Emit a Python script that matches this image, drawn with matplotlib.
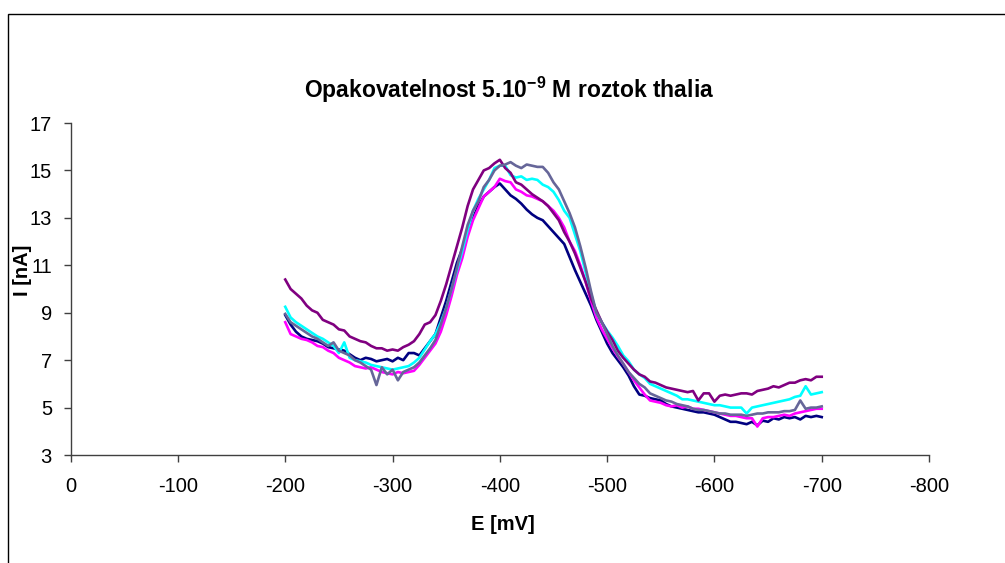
import matplotlib
matplotlib.use('Agg')
import matplotlib.pyplot as plt
import numpy as np
from matplotlib.patches import Rectangle

plt.rcParams['font.family'] = ['Liberation Sans', 'DejaVu Sans']
plt.rcParams['axes.unicode_minus'] = False
plt.rcParams['mathtext.fontset'] = 'custom'
plt.rcParams['mathtext.rm'] = 'Liberation Sans:bold'
plt.rcParams['mathtext.bf'] = 'Liberation Sans:bold'

# potential axis in mV, 5 mV step from -200 to -700
E = np.arange(-200, -701, -5)

navy = [8.9, 8.5, 8.2, 8.0, 7.9, 7.85, 7.8, 7.7, 7.55, 7.5,
        7.45, 7.4, 7.25, 7.1, 7.0, 7.1, 7.05, 6.95, 7.0, 7.05,
        6.95, 7.1, 7.0, 7.3, 7.3, 7.2, 7.5, 7.8, 8.1, 8.8,
        9.5, 10.3, 11.1, 11.7, 12.4, 13.0, 13.5, 13.9, 14.1, 14.3,
        14.45, 14.2, 13.95, 13.8, 13.6, 13.35, 13.15, 13.0, 12.9, 12.65,
        12.4, 12.15, 11.9, 11.35, 10.8, 10.3, 9.8, 9.3, 8.7, 8.2,
        7.7, 7.3, 7.0, 6.7, 6.35, 5.9, 5.55, 5.5, 5.4, 5.35,
        5.3, 5.15, 5.05, 5.0, 4.95, 4.9, 4.85, 4.8, 4.8, 4.75,
        4.7, 4.6, 4.5, 4.4, 4.4, 4.35, 4.3, 4.4, 4.25, 4.45,
        4.4, 4.55, 4.5, 4.6, 4.55, 4.6, 4.5, 4.65, 4.6, 4.65,
        4.6]

magenta = [8.6, 8.1, 8.0, 7.9, 7.85, 7.75, 7.6, 7.55, 7.4, 7.3,
           7.1, 7.0, 6.9, 6.75, 6.7, 6.65, 6.7, 6.6, 6.5, 6.45,
           6.4, 6.5, 6.45, 6.5, 6.55, 6.8, 7.1, 7.4, 7.7, 8.2,
           8.9, 9.7, 10.6, 11.3, 12.2, 12.9, 13.4, 13.9, 14.1, 14.3,
           14.65, 14.55, 14.5, 14.2, 14.1, 13.95, 13.9, 13.8, 13.7, 13.5,
           13.3, 13.0, 12.6, 12.0, 11.6, 11.0, 10.3, 9.5, 8.8, 8.3,
           7.9, 7.5, 7.15, 6.85, 6.5, 6.15, 5.85, 5.55, 5.3, 5.25,
           5.2, 5.1, 5.05, 5.1, 5.0, 5.05, 4.95, 4.95, 4.9, 4.85,
           4.8, 4.75, 4.7, 4.65, 4.65, 4.6, 4.55, 4.55, 4.2, 4.55,
           4.6, 4.6, 4.65, 4.7, 4.65, 4.75, 4.8, 4.85, 4.9, 4.95,
           4.95]

cyan = [9.25, 8.8, 8.6, 8.45, 8.3, 8.15, 8.0, 7.9, 7.75, 7.6,
        7.3, 7.75, 7.1, 7.0, 6.95, 6.9, 6.8, 6.75, 6.7, 6.65,
        6.6, 6.65, 6.7, 6.75, 6.9, 7.1, 7.45, 7.8, 8.1, 8.6,
        9.2, 10.0, 10.8, 11.6, 12.5, 13.3, 13.8, 14.2, 14.6, 15.1,
        15.2, 15.2, 14.8, 14.7, 14.75, 14.6, 14.65, 14.6, 14.4, 14.3,
        14.1, 13.75, 13.3, 13.0, 12.3, 11.6, 10.7, 9.8, 9.0, 8.6,
        8.25, 7.95, 7.6, 7.2, 6.95, 6.6, 6.4, 6.25, 6.0, 5.9,
        5.8, 5.7, 5.6, 5.5, 5.35, 5.35, 5.3, 5.25, 5.2, 5.15,
        5.1, 5.1, 5.05, 5.0, 5.0, 5.0, 4.75, 5.0, 5.05, 5.1,
        5.15, 5.2, 5.25, 5.3, 5.35, 5.45, 5.5, 5.9, 5.55, 5.6,
        5.65]

purple = [10.4, 10.0, 9.8, 9.6, 9.3, 9.1, 9.0, 8.7, 8.6, 8.5,
          8.3, 8.25, 8.0, 7.9, 7.8, 7.75, 7.6, 7.5, 7.5, 7.4,
          7.45, 7.4, 7.55, 7.65, 7.8, 8.1, 8.5, 8.6, 8.9, 9.5,
          10.2, 11.0, 11.8, 12.6, 13.5, 14.2, 14.6, 15.0, 15.1, 15.3,
          15.45, 15.1, 14.9, 14.5, 14.4, 14.2, 14.0, 13.85, 13.7, 13.5,
          13.2, 12.9, 12.4, 12.0, 11.5, 10.9, 10.3, 9.6, 9.1, 8.6,
          8.2, 7.85, 7.4, 7.1, 6.85, 6.6, 6.4, 6.3, 6.1, 6.05,
          5.95, 5.85, 5.8, 5.75, 5.7, 5.65, 5.7, 5.3, 5.6, 5.6,
          5.25, 5.5, 5.55, 5.5, 5.55, 5.6, 5.6, 5.55, 5.7, 5.75,
          5.8, 5.9, 5.85, 5.95, 6.05, 6.05, 6.15, 6.2, 6.15, 6.3,
          6.3]

grey = [8.95, 8.6, 8.45, 8.3, 8.15, 8.0, 7.9, 7.75, 7.6, 7.75,
        7.4, 7.3, 7.2, 7.0, 6.9, 6.75, 6.6, 5.95, 6.7, 6.4,
        6.6, 6.15, 6.5, 6.6, 6.7, 6.9, 7.2, 7.5, 7.85, 8.5,
        9.2, 10.0, 10.9, 11.8, 12.7, 13.3, 13.7, 14.3, 14.6, 15.0,
        15.2, 15.25, 15.35, 15.2, 15.1, 15.25, 15.2, 15.15, 15.15, 14.9,
        14.5, 14.2, 13.7, 13.2, 12.6, 11.8, 10.9, 9.9, 9.0, 8.6,
        8.1, 7.6, 7.2, 6.85, 6.5, 6.25, 6.0, 5.85, 5.6, 5.5,
        5.4, 5.3, 5.25, 5.15, 5.1, 5.05, 4.95, 4.9, 4.9, 4.85,
        4.8, 4.75, 4.75, 4.7, 4.7, 4.7, 4.65, 4.7, 4.75, 4.75,
        4.8, 4.8, 4.8, 4.85, 4.85, 4.9, 5.3, 4.95, 5.0, 5.0,
        5.05]

series = [(navy, '#000080'), (magenta, '#FF00FF'), (cyan, '#00FFFF'),
          (purple, '#800080'), (grey, '#666699')]

fig = plt.figure(figsize=(10.05, 5.63), dpi=100)
ax = fig.add_axes([0.0703, 0.1918, 0.8541, 0.5897])

for vals, col in series:
    ax.plot(E, vals, color=col, lw=1.9)

ax.set_xlim(0, -800)
ax.set_ylim(3, 17)
ax.set_xticks(np.arange(0, -801, -100))
ax.set_yticks(np.arange(3, 18, 2))

for s in ['top', 'right']:
    ax.spines[s].set_visible(False)
for s in ['left', 'bottom']:
    ax.spines[s].set_color('#404040')
    ax.spines[s].set_linewidth(1.0)
ax.tick_params(colors='#404040', labelcolor='black', length=5, width=1.0,
               labelsize=14.5)
ax.tick_params(axis='x', pad=11)
ax.tick_params(axis='y', pad=8.5)

fig.text(0.507, 0.84, 'Opakovatelnost 5.10$^{-9}$ M roztok thalia',
         ha='center', va='center', fontsize=16.5, fontweight='bold')
fig.text(0.5, 0.068, 'E [mV]', ha='center', va='center',
         fontsize=14.5, fontweight='bold')
fig.text(0.022, 0.52, 'I [nA]', ha='center', va='center', rotation=90,
         fontsize=14.5, fontweight='bold')

# chart frame, cut off at right and bottom edge like the source
fig.patches.append(Rectangle((8 / 1005, -0.1), 1.2, 0.1 + (563 - 14) / 563,
                             transform=fig.transFigure, fill=False,
                             edgecolor='black', lw=1.0))

fig.savefig('out.png', dpi=100)
